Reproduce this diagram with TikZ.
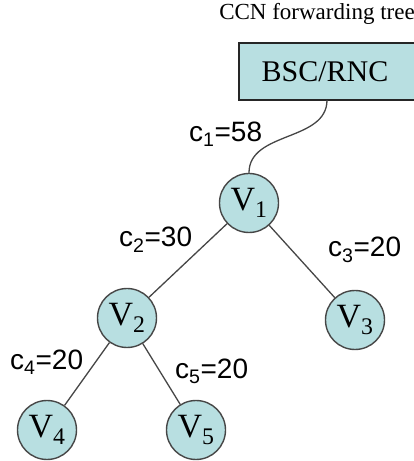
\documentclass[tikz,border=0pt]{standalone}
\usepackage{fontspec}
\setmainfont{Liberation Serif}
\newfontfamily\lblfont{Liberation Sans}
\usepackage{tikz}
\usetikzlibrary{
  arrows.meta,
  calc,
  positioning
}
\definecolor{treefill}{RGB}{184,223,225}
\definecolor{edgegray}{RGB}{70,70,70}

\begin{document}
\begin{tikzpicture}[
  x=1pt, y=1pt,
  vnode/.style={draw=edgegray, circle, line width=1.4pt, fill=treefill,
               minimum size=59pt, inner sep=0pt, font=\fontsize{34}{40}\selectfont},
  ctrlbox/.style={draw=black!85, line width=1.8pt, fill=treefill, minimum width=177pt,
               minimum height=57pt, inner sep=0pt, font=\fontsize{30}{36}\selectfont},
  lbl/.style={inner sep=0pt, anchor=base west, font=\lblfont\fontsize{28}{32}\selectfont},
  link/.style={draw=edgegray, line width=1.3pt}
]
  \useasboundingbox (0,0) rectangle (414,461);

  \node[anchor=base, font=\fontsize{23}{28}\selectfont] (title) at (317,441) {CCN forwarding tree};
  \node[ctrlbox] (bsc) at (327.5,389.5) {\hspace*{-5pt}BSC/RNC};

  \node[vnode] (v1) at (249,258) {V\textsubscript{1}};
  \node[vnode] (v2) at (127,143) {V\textsubscript{2}};
  \node[vnode] (v3) at (355,141) {V\textsubscript{3}};
  \node[vnode] (v4) at (47,31) {V\textsubscript{4}};
  \node[vnode] (v5) at (196,31) {V\textsubscript{5}};

  \coordinate (feed) at (327,361);
  \draw[link] (feed) to[out=-90, in=90] (v1.north);
  \draw[link] (v1) -- (v2);
  \draw[link] (v1) -- (v3);
  \draw[link] (v2) -- (v4);
  \draw[link] (v2) -- (v5);

  \node[lbl] (c1) at (189,319) {c\textsubscript{1}=58};
  \node[lbl] (c2) at (119,214) {c\textsubscript{2}=30};
  \node[lbl] (c3) at (328,204) {c\textsubscript{3}=20};
  \node[lbl] (c4) at (10,91) {c\textsubscript{4}=20};
  \node[lbl] (c5) at (175,82) {c\textsubscript{5}=20};
\end{tikzpicture}
\end{document}
